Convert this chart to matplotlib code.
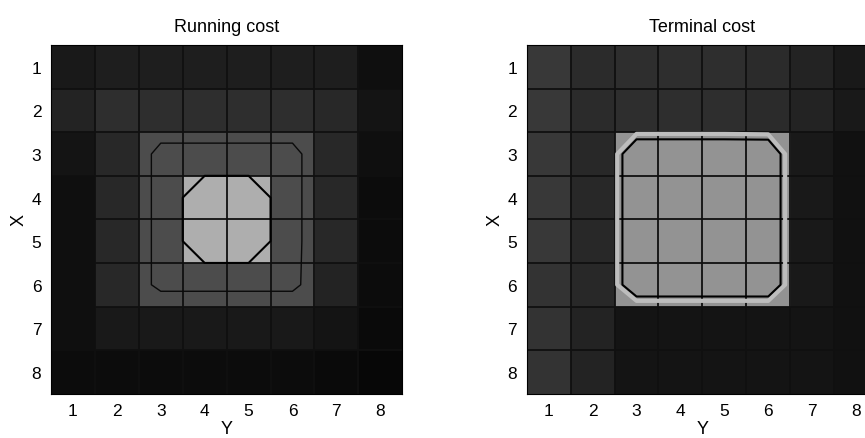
import numpy as np
import matplotlib
matplotlib.use('Agg')
import matplotlib.pyplot as plt

plt.rcParams['font.family'] = ['Liberation Sans', 'DejaVu Sans']

# grey level of each cell (row = X, column = Y)
running_cost = [
    [0.10, 0.12, 0.12, 0.12, 0.12, 0.12, 0.12, 0.06],
    [0.14, 0.18, 0.18, 0.18, 0.18, 0.18, 0.16, 0.08],
    [0.08, 0.16, 0.30, 0.30, 0.30, 0.30, 0.16, 0.06],
    [0.06, 0.16, 0.30, 0.68, 0.68, 0.30, 0.16, 0.05],
    [0.06, 0.16, 0.30, 0.68, 0.68, 0.30, 0.16, 0.05],
    [0.06, 0.16, 0.30, 0.30, 0.30, 0.30, 0.14, 0.05],
    [0.06, 0.10, 0.10, 0.10, 0.10, 0.10, 0.08, 0.04],
    [0.05, 0.05, 0.05, 0.05, 0.05, 0.05, 0.04, 0.03],
]
terminal_cost = [
    [0.22, 0.17, 0.18, 0.18, 0.18, 0.17, 0.14, 0.10],
    [0.22, 0.17, 0.18, 0.18, 0.18, 0.17, 0.14, 0.10],
    [0.22, 0.16, 0.58, 0.58, 0.58, 0.58, 0.10, 0.07],
    [0.22, 0.16, 0.58, 0.58, 0.58, 0.58, 0.10, 0.07],
    [0.22, 0.16, 0.58, 0.58, 0.58, 0.58, 0.10, 0.07],
    [0.20, 0.16, 0.58, 0.58, 0.58, 0.58, 0.10, 0.07],
    [0.20, 0.14, 0.08, 0.08, 0.08, 0.08, 0.08, 0.07],
    [0.20, 0.14, 0.08, 0.08, 0.08, 0.08, 0.08, 0.07],
]
titles = ['Running cost', 'Terminal cost']
ticks = [1, 2, 3, 4, 5, 6, 7, 8]

fig = plt.figure(figsize=(8.65, 4.39), dpi=100)
ax1 = fig.add_axes([0.059, 0.101, 0.406, 0.794])
ax2 = fig.add_axes([0.609, 0.101, 0.406, 0.794])

idx = np.arange(1, 9)

for ax, data, title in zip((ax1, ax2), (running_cost, terminal_cost), titles):
    z = np.array(data)
    ax.imshow(z, cmap='gray', vmin=0, vmax=1, extent=(0.5, 8.5, 8.5, 0.5),
              interpolation='nearest', aspect='auto')
    # cell edges
    for k in np.arange(1.5, 8.5):
        ax.axhline(k, color='#101010', lw=1.3)
        ax.axvline(k, color='#101010', lw=1.3)
    if title == 'Running cost':
        ax.contour(idx, idx, z, levels=[0.27], colors='#0a0a0a', linewidths=1.0)
        ax.contour(idx, idx, z, levels=[0.49], colors='black', linewidths=1.5)
    else:
        ax.contour(idx, idx, z, levels=[0.395], colors='#bdbdbd', linewidths=3.0)
        ax.contour(idx, idx, z, levels=[0.445], colors='black', linewidths=1.5)
    ax.set_xlim(0.5, 8.5)
    ax.set_ylim(8.5, 0.5)
    ax.set_xticks(ticks)
    ax.set_yticks(ticks)
    ax.tick_params(length=0, labelsize=12.5)
    ax.tick_params(axis='x', pad=7)
    ax.tick_params(axis='y', pad=7)
    ax.set_title(title, fontsize=13, pad=10)
    ax.set_xlabel('Y', fontsize=13, labelpad=1)
    ax.set_ylabel('X', fontsize=13, labelpad=3)

fig.savefig('out.png', dpi=100)
